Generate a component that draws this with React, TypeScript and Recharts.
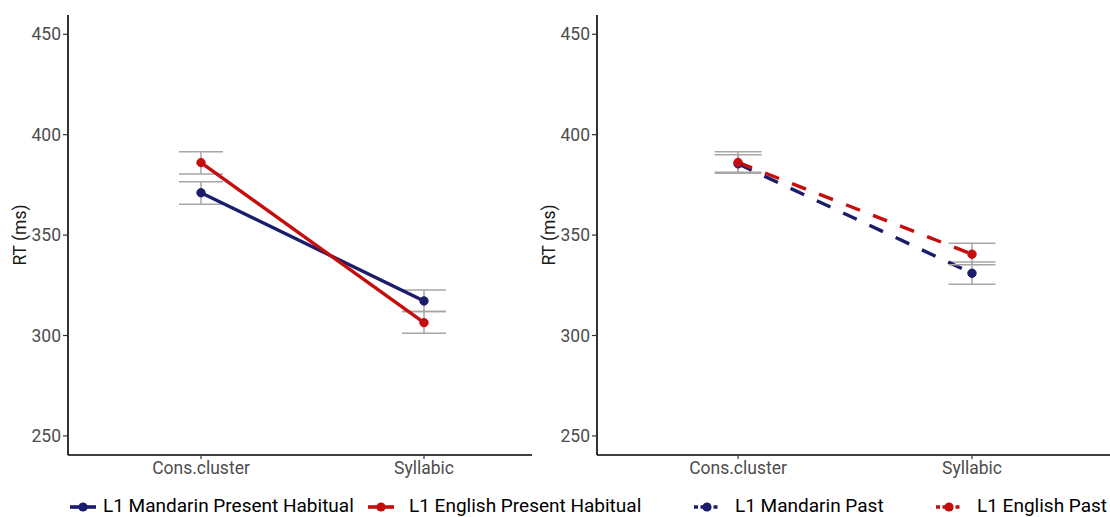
import { LineChart, Line, XAxis, YAxis, ErrorBar, Label } from "recharts";

const categories = ["Cons.cluster", "Syllabic"];
const categoryPos = [1, 2];
const yTicks = [250, 300, 350, 400, 450];

// present habitual condition
const mandarinPresent = [371.1, 317.2];
const mandarinPresentLow = [365.4, 311.9];
const mandarinPresentHigh = [376.6, 322.7];
const englishPresent = [386.1, 306.4];
const englishPresentLow = [380.4, 301.1];
const englishPresentHigh = [391.5, 311.9];

// past condition
const mandarinPast = [385.5, 331.0];
const mandarinPastLow = [381.3, 325.5];
const mandarinPastHigh = [390.0, 336.6];
const englishPast = [386.2, 340.5];
const englishPastLow = [380.8, 335.2];
const englishPastHigh = [391.5, 345.9];

const legendNames = [
  "L1 Mandarin Present Habitual",
  "L1 English Present Habitual",
  "L1 Mandarin Past",
  "L1 English Past",
];

const NAVY = "#1c1c6c";
const RED = "#c40e0e";
const ERR = "#a6a6a6";
const FONT = "Roboto, 'Noto Sans', sans-serif";

function buildRows(
  mand: number[], mandLo: number[], mandHi: number[],
  eng: number[], engLo: number[], engHi: number[]
) {
  return categoryPos.map((x, i) => ({
    x,
    mandarin: mand[i],
    mandarinErr: [mand[i] - mandLo[i], mandHi[i] - mand[i]],
    english: eng[i],
    englishErr: [eng[i] - engLo[i], engHi[i] - eng[i]],
  }));
}

const presentRows = buildRows(
  mandarinPresent, mandarinPresentLow, mandarinPresentHigh,
  englishPresent, englishPresentLow, englishPresentHigh
);
const pastRows = buildRows(
  mandarinPast, mandarinPastLow, mandarinPastHigh,
  englishPast, englishPastLow, englishPastHigh
);

interface PanelProps {
  data: ReturnType<typeof buildRows>;
  left: number;
  width: number;
  axisWidth: number;
  marginRight: number;
  xDomain: [number, number];
  dashed?: boolean;
  cap: number;
}

function Panel({ data, left, width, axisWidth, marginRight, xDomain, dashed, cap }: PanelProps) {
  const dash = dashed ? "15 14" : undefined;
  const tick = { fontSize: 17.5, fill: "#4d4d4d", fontFamily: FONT };
  return (
    <LineChart
      width={width}
      height={517}
      data={data}
      margin={{ top: 15, right: marginRight, bottom: 32, left: 0 }}
      style={{ position: "absolute", left, top: 0 }}
    >
      <XAxis
        type="number"
        dataKey="x"
        domain={xDomain}
        allowDataOverflow
        ticks={categoryPos}
        interval={0}
        tickFormatter={(v: number) => categories[v - 1]}
        height={30}
        tick={tick}
        tickSize={4}
        tickMargin={3}
        axisLine={{ stroke: "#000", strokeWidth: 1.6 }}
        tickLine={{ stroke: "#333", strokeWidth: 1.2 }}
      />
      <YAxis
        type="number"
        domain={[240.5, 459.6]}
        allowDataOverflow
        ticks={yTicks}
        interval={0}
        width={axisWidth}
        tick={tick}
        tickSize={5}
        tickMargin={2}
        axisLine={{ stroke: "#000", strokeWidth: 1.6 }}
        tickLine={{ stroke: "#333", strokeWidth: 1.2 }}
      >
        <Label
          value="RT (ms)"
          angle={-90}
          position="insideLeft"
          offset={axisWidth - 48}
          style={{ fontSize: 17.5, fill: "#1a1a1a", fontFamily: FONT, textAnchor: "middle" }}
        />
      </YAxis>
      <Line
        type="linear"
        dataKey="mandarin"
        stroke={NAVY}
        strokeWidth={3.4}
        strokeDasharray={dash}
        dot={{ r: 4.2, fill: NAVY, stroke: NAVY, strokeWidth: 1, strokeDasharray: "none" }}
        activeDot={false}
        isAnimationActive={false}
      >
        <ErrorBar dataKey="mandarinErr" width={cap} stroke={ERR} strokeWidth={1.5} />
      </Line>
      <Line
        type="linear"
        dataKey="english"
        stroke={RED}
        strokeWidth={3.4}
        strokeDasharray={dash}
        dot={{ r: 4.2, fill: RED, stroke: RED, strokeWidth: 1, strokeDasharray: "none" }}
        activeDot={false}
        isAnimationActive={false}
      >
        <ErrorBar dataKey="englishErr" width={cap} stroke={ERR} strokeWidth={1.5} />
      </Line>
    </LineChart>
  );
}

function LegendIcon({ color, dashed }: { color: string; dashed: boolean }) {
  return (
    <svg width={28} height={12} style={{ display: "block" }}>
      <line
        x1={1}
        y1={6}
        x2={27}
        y2={6}
        stroke={color}
        strokeWidth={3.6}
        strokeDasharray={dashed ? "4 2.5" : undefined}
      />
      <circle cx={14} cy={6} r={4.6} fill={color} />
    </svg>
  );
}

// legend key and label offsets along the bottom row
const legendIconLeft = [69, 367, 693, 935];
const legendTextLeft = [103, 409, 735, 977];
const legendColors = [NAVY, RED, NAVY, RED];
const legendDashed = [false, false, true, true];

export default function App() {
  return (
    <div
      style={{
        position: "absolute",
        left: 0,
        top: 0,
        width: 1110,
        height: 517,
        background: "#fff",
        overflow: "hidden",
        fontFamily: FONT,
      }}
    >
      <Panel
        data={presentRows}
        left={0}
        width={560}
        axisWidth={68}
        marginRight={28}
        xDomain={[0.4036, 2.4843]}
        cap={22}
      />
      <Panel
        data={pastRows}
        left={530}
        width={580}
        axisWidth={67}
        marginRight={0}
        xDomain={[0.397, 2.59]}
        dashed
        cap={23.5}
      />
      {legendNames.map((name, i) => (
        <div key={name}>
          <div style={{ position: "absolute", left: legendIconLeft[i], top: 501 }}>
            <LegendIcon color={legendColors[i]} dashed={legendDashed[i]} />
          </div>
          <div
            style={{
              position: "absolute",
              left: legendTextLeft[i],
              top: 496,
              height: 19,
              lineHeight: "19px",
              whiteSpace: "nowrap",
              fontSize: 19,
              color: "#000",
            }}
          >
            {name}
          </div>
        </div>
      ))}
    </div>
  );
}
